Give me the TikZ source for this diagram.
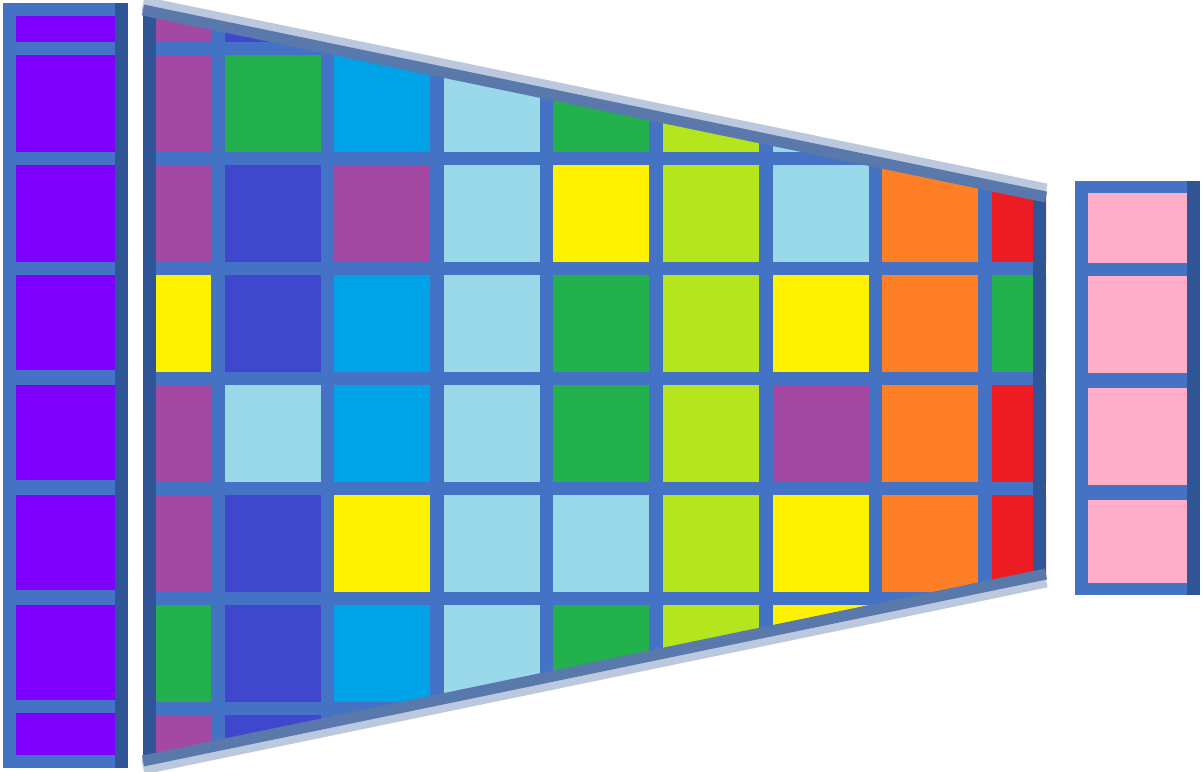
\documentclass[tikz,border=0pt]{standalone}
\usetikzlibrary{calc}
\definecolor{frame}{HTML}{4472C4}
\definecolor{dkframe}{HTML}{2F5597}
\definecolor{halo}{HTML}{BCC8DD}
\definecolor{violet}{HTML}{7F00FF}
\definecolor{plum}{HTML}{A349A4}
\definecolor{royal}{HTML}{3F48CC}
\definecolor{leaf}{HTML}{22B14C}
\definecolor{sky}{HTML}{00A2E8}
\definecolor{ice}{HTML}{99D9EA}
\definecolor{lemon}{HTML}{FFF200}
\definecolor{chartr}{HTML}{B5E61D}
\definecolor{tang}{HTML}{FF7F27}
\definecolor{scarlet}{HTML}{ED1C24}
\definecolor{blush}{HTML}{FFAEC9}

\begin{document}
\begin{tikzpicture}[
  x=0.02cm, y=-0.02cm,
  slanthalo/.style={halo, line width=0.3cm},
  slantcore/.style={dkframe!70!halo, line width=0.22cm},
]
\useasboundingbox (0,0) rectangle (1203,771);

% === Input column ===
\fill[frame] (3,3) rectangle (128,768);
\fill[dkframe] (115,3) rectangle (128,768);
\foreach \ya/\yb in {16/42, 55/152, 165/262, 275/370, 385/480, 495/590, 605/700, 713/755} {
  \fill[violet] (16,\ya) rectangle (115,\yb);
}

% === Feature grid, cut to the funnel ===
\begin{scope}
  \clip (143,8) -- (1046,195) -- (1046,576) -- (143,763) -- cycle;
  \fill[frame] (143,3) rectangle (1046,768);
  \foreach \row [count=\j from -1] in {
      {plum,royal,sky,ice,leaf,chartr,ice,tang,scarlet},
      {plum,leaf,sky,ice,leaf,chartr,ice,tang,scarlet},
      {plum,royal,plum,ice,lemon,chartr,ice,tang,scarlet},
      {lemon,royal,sky,ice,leaf,chartr,lemon,tang,leaf},
      {plum,ice,sky,ice,leaf,chartr,plum,tang,scarlet},
      {plum,royal,lemon,ice,ice,chartr,lemon,tang,scarlet},
      {leaf,royal,sky,ice,leaf,chartr,lemon,tang,scarlet},
      {plum,royal,sky,ice,leaf,chartr,lemon,tang,scarlet}} {
    \foreach \c [count=\i from 0] in \row {
      \fill[\c] ({115+109.6*\i},{55+110*\j}) rectangle +(96,97);
    }
  }
  % right edge of the grid
  \fill[dkframe] (1033,3) rectangle (1046,768);
\end{scope}

% left edge of the grid
\fill[dkframe] (143,3) rectangle (156,768);

% === Slanted borders ===
\draw[slanthalo] (143,4) -- (1046,191);
\draw[slanthalo] (143,767) -- (1046,580);
\draw[slantcore] (143,10) -- (1046,197);
\draw[slantcore] (143,761) -- (1046,574);

% === Output column ===
\fill[frame] (1075,181) rectangle (1200,595);
\fill[dkframe] (1187,181) rectangle (1200,595);
\foreach \ya/\yb in {193/263, 276/373, 388/485, 500/583} {
  \fill[blush] (1088,\ya) rectangle (1187,\yb);
}

\end{tikzpicture}
\end{document}
